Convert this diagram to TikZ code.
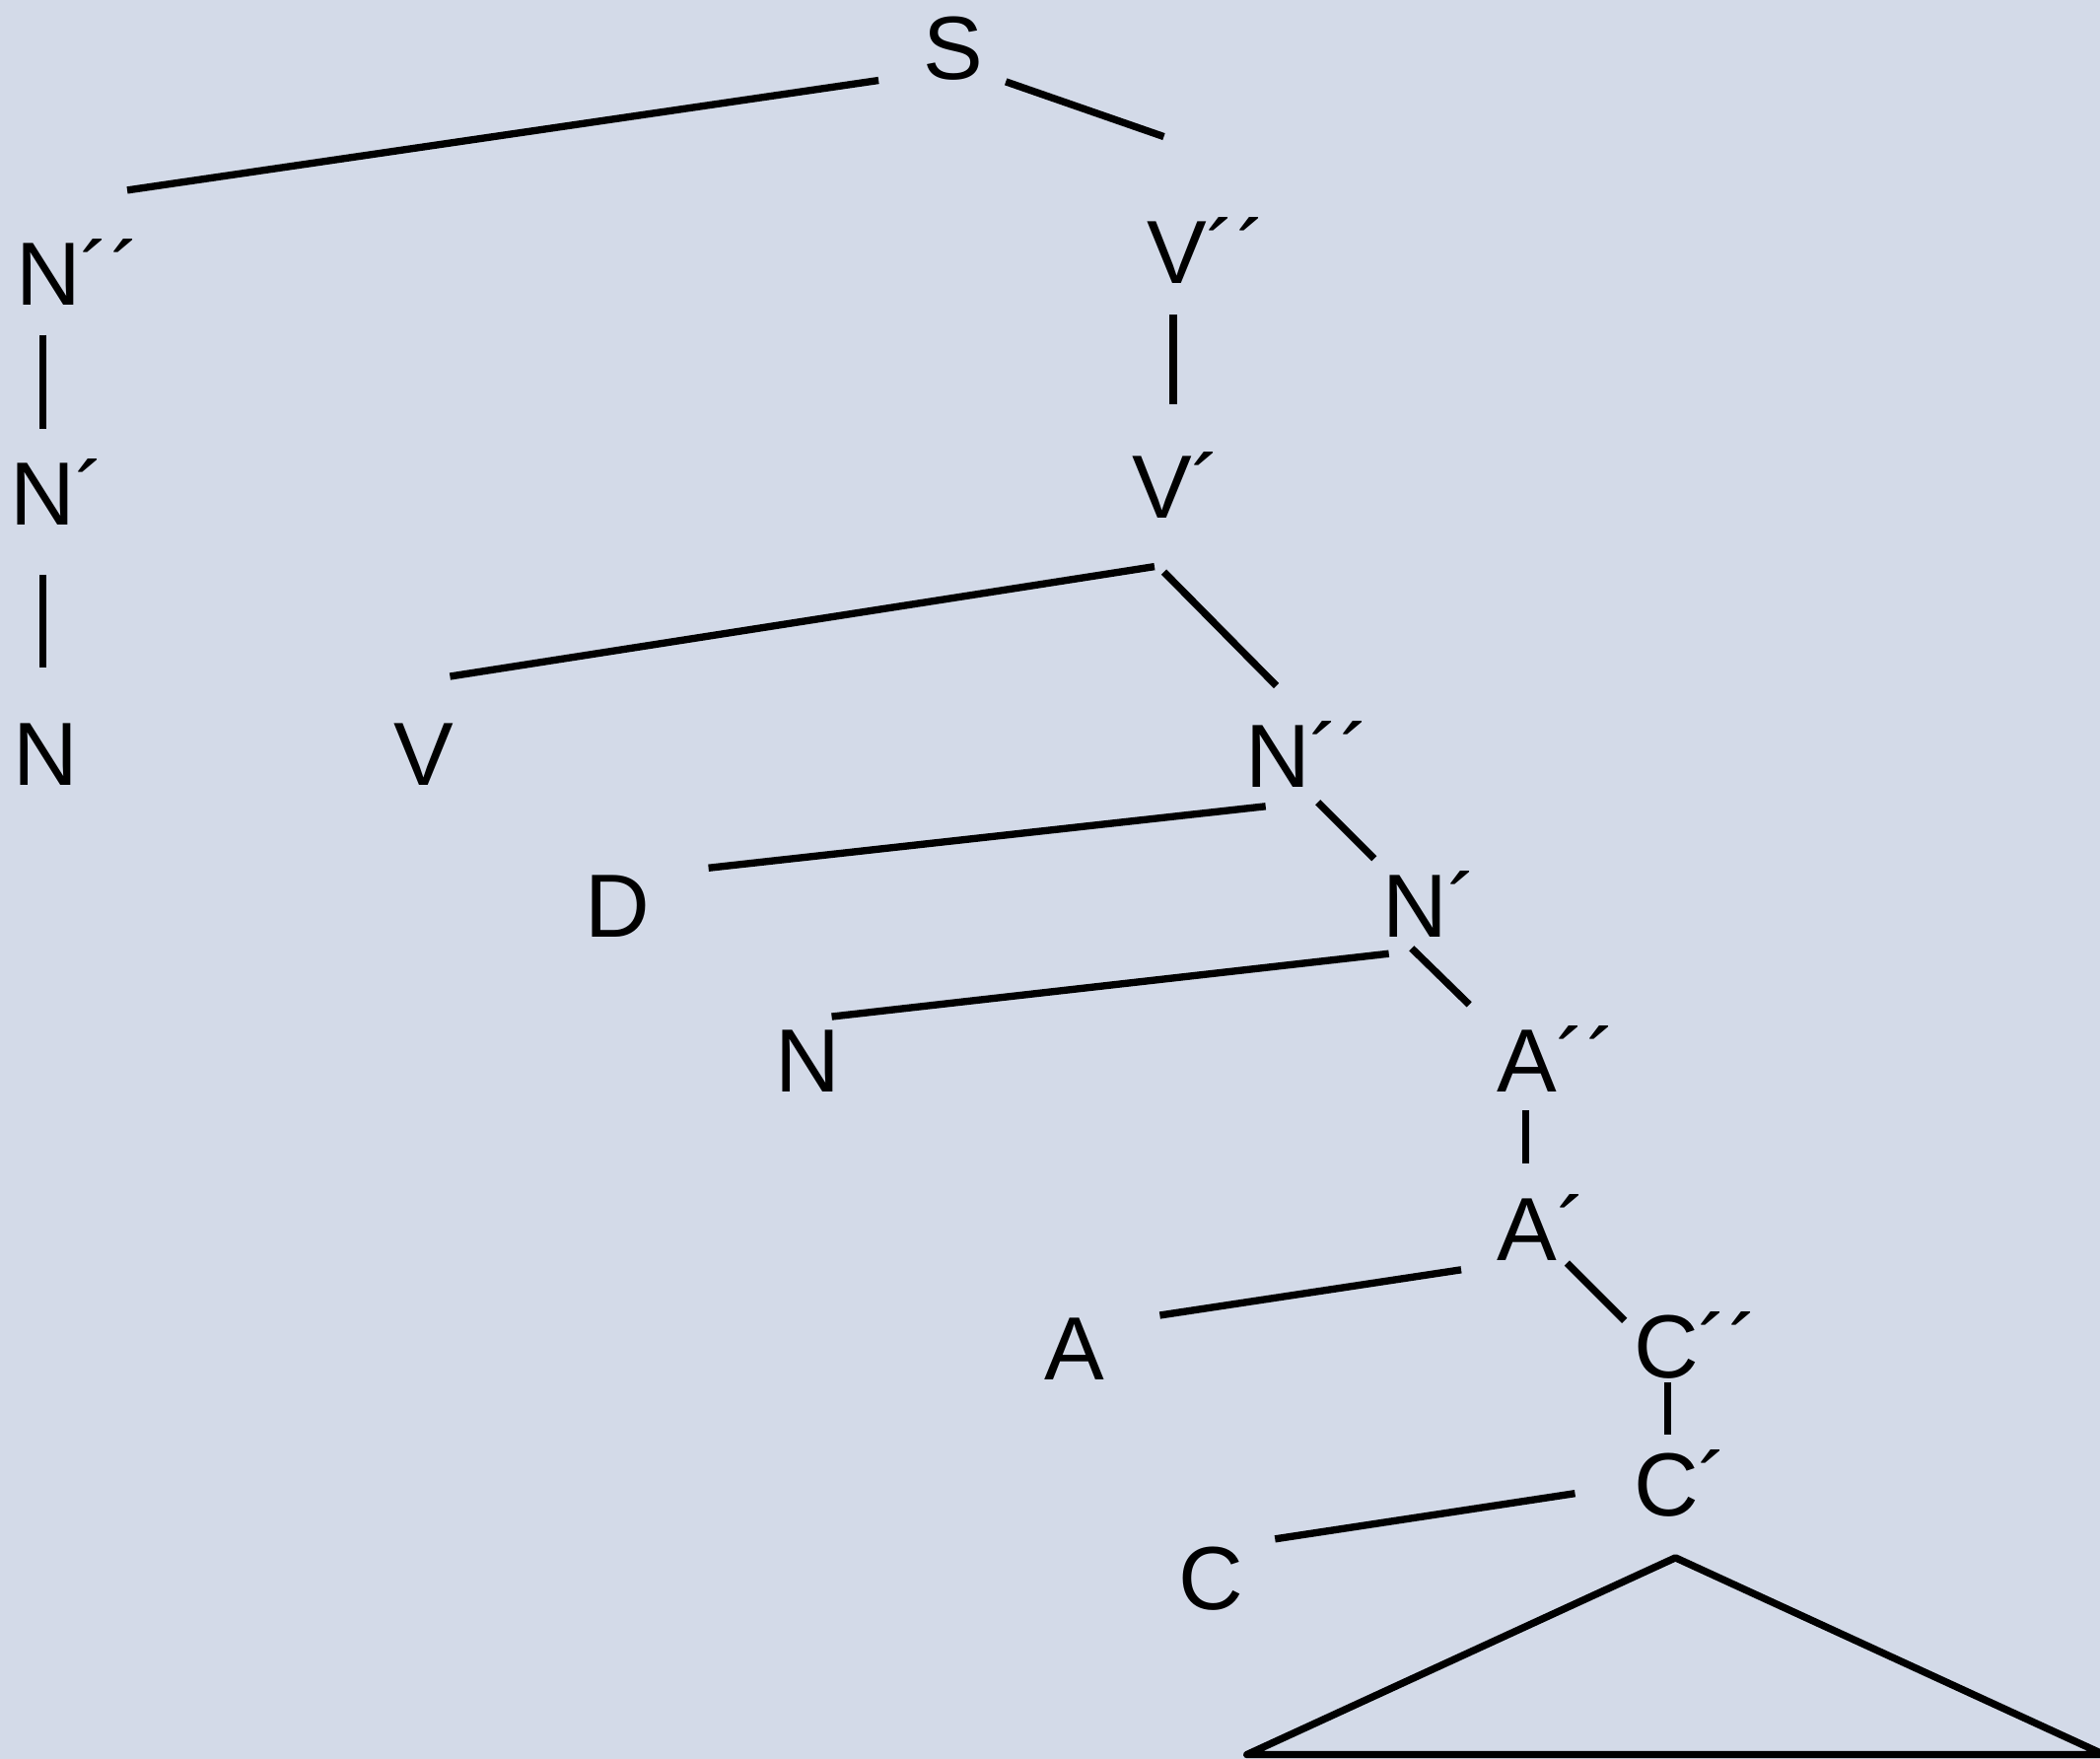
\documentclass[tikz,border=0pt]{standalone}
\usepackage{fontspec}
\setmainfont{Liberation Sans}
\definecolor{bgcol}{HTML}{D3DAE8}
\tikzset{
  lab/.style={inner sep=0pt, anchor=base, font=\fontsize{33.5}{40}\selectfont},
  edge/.style={line width=2.7pt, line cap=butt}
}
\newcommand{\pp}{\rlap{´´}}
\newcommand{\p}{\rlap{´}}
\begin{document}
\begin{tikzpicture}[x=0.5pt,y=-0.5pt]
\useasboundingbox (0,0) rectangle (1568,1313);
\fill[bgcol] (0,0) rectangle (1568,1313);
\clip (0,0) rectangle (1568,1313);
% nodes
\node[lab] (S)    at (711.5,59)  {S};
\node[lab] (Npp1) at (36,228)    {N\pp};
\node[lab] (Np1)  at (32,392)    {N\p};
\node[lab] (N1)   at (34,586)    {N};
\node[lab] (Vpp)  at (878.5,212) {V\pp};
\node[lab] (Vp)   at (867.5,387) {V\p};
\node[lab] (V)    at (316.5,586) {V};
\node[lab] (Npp2) at (954,588)   {N\pp};
\node[lab] (D)    at (461,700)   {D};
\node[lab] (Np2)  at (1056.5,700){N\p};
\node[lab] (N2)   at (603,815)   {N};
\node[lab] (App)  at (1140,815)  {A\pp};
\node[lab] (Ap)   at (1140.5,941){A\p};
\node[lab] (A)    at (802.5,1030){A};
\node[lab] (Cpp)  at (1244,1029) {C\pp};
\node[lab] (Cp)   at (1244,1132) {C\p};
\node[lab] (C)    at (904,1202)  {C};
% connector end points
\coordinate (S-l) at (656,60);     \coordinate (Npp1-t) at (95,142);
\coordinate (S-r) at (751,61);     \coordinate (Vpp-t) at (869,102);
\coordinate (Npp1-b) at (32,250);  \coordinate (Np1-t) at (32,320);
\coordinate (Np1-b) at (32,429);   \coordinate (N1-t) at (32,498);
\coordinate (Vpp-b) at (876,235);  \coordinate (Vp-t) at (876,302);
\coordinate (Vp-l) at (862,423);   \coordinate (V-t) at (336,505);
\coordinate (Vp-r) at (869,427);   \coordinate (Npp2-t) at (953,512);
\coordinate (Npp2-l) at (945,602); \coordinate (D-t) at (529,648);
\coordinate (Npp2-r) at (984,599); \coordinate (Np2-t) at (1026,641);
\coordinate (Np2-l) at (1037,712); \coordinate (N2-t) at (621,759);
\coordinate (Np2-r) at (1054,708); \coordinate (App-t) at (1097,750);
\coordinate (App-b) at (1139,829); \coordinate (Ap-t) at (1139,869);
\coordinate (Ap-l) at (1091,948);  \coordinate (A-t) at (866,982);
\coordinate (Ap-r) at (1170,943);  \coordinate (Cpp-t) at (1213,986);
\coordinate (Cpp-b) at (1245,1032);\coordinate (Cp-t) at (1245,1071);
\coordinate (Cp-l) at (1176,1115); \coordinate (C-t) at (952,1149);
\coordinate (T-a) at (1251,1163);  \coordinate (T-l) at (931,1310); \coordinate (T-r) at (1571,1310);
% connectors
\draw[edge] (S-l) -- (Npp1-t);
\draw[edge] (S-r) -- (Vpp-t);
\draw[edge] (Npp1-b) -- (Np1-t);
\draw[edge] (Np1-b) -- (N1-t);
\draw[edge] (Vpp-b) -- (Vp-t);
\draw[edge] (Vp-l) -- (V-t);
\draw[edge] (Vp-r) -- (Npp2-t);
\draw[edge] (Npp2-l) -- (D-t);
\draw[edge] (Npp2-r) -- (Np2-t);
\draw[edge] (Np2-l) -- (N2-t);
\draw[edge] (Np2-r) -- (App-t);
\draw[edge] (App-b) -- (Ap-t);
\draw[edge] (Ap-l) -- (A-t);
\draw[edge] (Ap-r) -- (Cpp-t);
\draw[edge] (Cpp-b) -- (Cp-t);
\draw[edge] (Cp-l) -- (C-t);
\draw[edge, line join=round] (T-a) -- (T-l) -- (T-r) -- cycle;
\end{tikzpicture}
\end{document}
